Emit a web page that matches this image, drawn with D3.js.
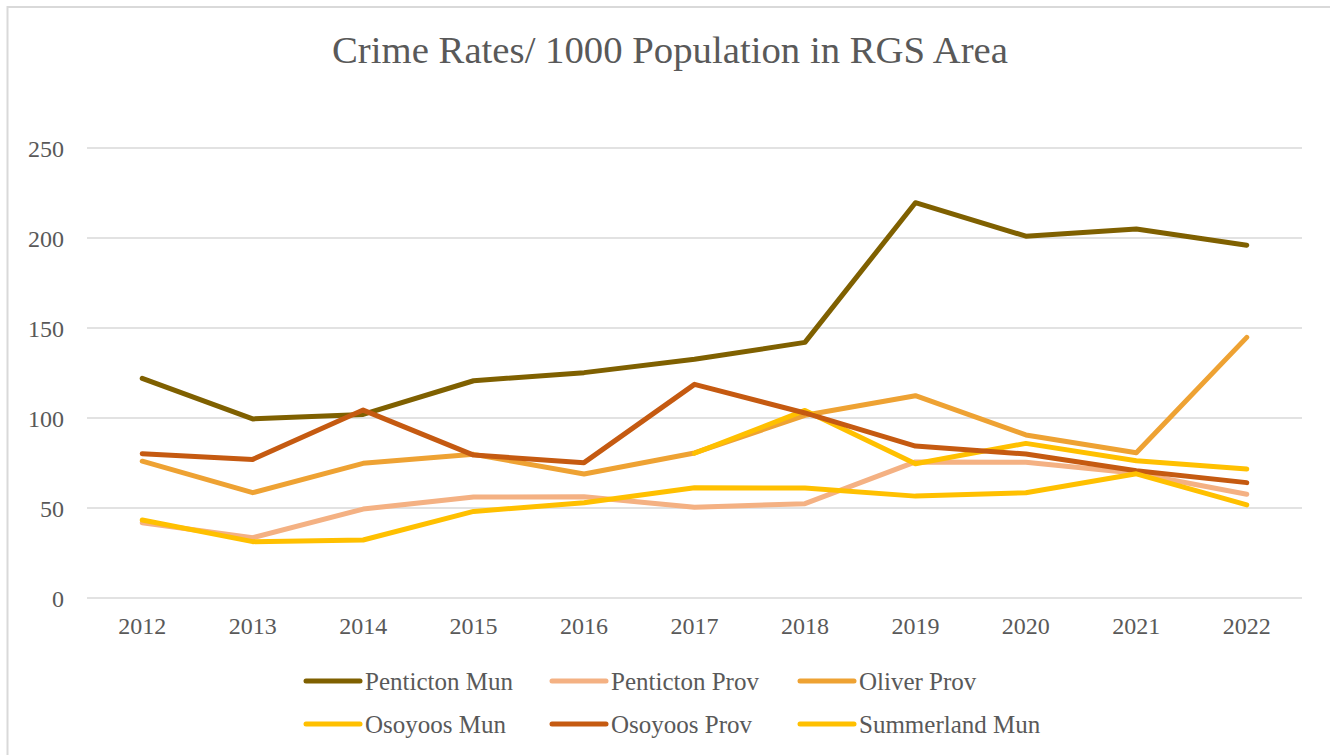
<!DOCTYPE html>
<html>
<head>
    <script src="https://d3js.org/d3.v7.min.js"></script>
    <style>
        body { margin: 0; background-color: #ffffff; }
        text { font-family: "Liberation Serif", "DejaVu Serif", serif; fill: #595959; }
    </style>
</head>
<body>
    <svg id="canvas" width="1330" height="755"></svg>
    <script>
        const svg = d3.select('#canvas');
        const WIDTH = 1330;
        const HEIGHT = 755;
        const LINE_WIDTH = 5;

        //categories and tick labels
        const years = ['2012', '2013', '2014', '2015', '2016', '2017', '2018', '2019', '2020', '2021', '2022'];
        const yTicks = [0, 50, 100, 150, 200, 250];

        //series values (null = no data)
        const pentictonMun = [122, 99.5, 102, 120.7, 125.2, 132.6, 142, 219.6, 201, 205, 196];
        const pentictonProv = [41.8, 33.5, 49.4, 56.1, 56.3, 50.4, 52.4, 75.6, 75.4, 69.3, 57.6];
        const oliverProv = [76, 58.5, 74.8, 79.8, 68.9, 80.6, 101.5, 112.4, 90.6, 80.7, 144.8];
        const osoyoosMun = [null, null, null, null, null, 80.4, 104.2, 74.6, 85.9, 76.3, 71.7];
        const osoyoosProv = [80.2, 77, 104.4, 79.4, 75.2, 118.7, 102.8, 84.4, 80, 70.7, 64.1];
        const summerlandMun = [43.3, 31.3, 32.2, 48.1, 52.9, 61.3, 61.1, 56.6, 58.5, 69, 51.7];

        const seriesNames = ['Penticton Mun', 'Penticton Prov', 'Oliver Prov', 'Osoyoos Mun', 'Osoyoos Prov', 'Summerland Mun'];
        const seriesColors = ['#7f6000', '#f4b183', '#eea233', '#ffc000', '#c55a11', '#ffc000'];
        const seriesValues = [pentictonMun, pentictonProv, oliverProv, osoyoosMun, osoyoosProv, summerlandMun];

        const series = seriesNames.map((name, i) => ({
            name: name,
            color: seriesColors[i],
            values: seriesValues[i]
        }));

        //plot area
        const plot = { left: 87, right: 1302, top: 148, bottom: 598 };

        const x = d3.scaleBand()
            .domain(years)
            .range([plot.left, plot.right]);

        const y = d3.scaleLinear()
            .domain([0, 250])
            .range([plot.bottom, plot.top]);

        //chart border (runs off the right and bottom of the picture)
        svg.append('rect')
            .attr('x', 7.5)
            .attr('y', 7)
            .attr('width', WIDTH + 20)
            .attr('height', HEIGHT + 20)
            .attr('fill', 'none')
            .attr('stroke', '#d9d9d9')
            .attr('stroke-width', 2);

        //title
        svg.append('text')
            .attr('x', 670)
            .attr('y', 63)
            .attr('text-anchor', 'middle')
            .attr('font-size', 38)
            .attr('textLength', 676)
            .attr('lengthAdjust', 'spacingAndGlyphs')
            .text('Crime Rates/ 1000 Population in RGS Area');

        //gridlines
        svg.append('g')
            .selectAll('line')
            .data(yTicks)
            .join('line')
            .attr('x1', plot.left)
            .attr('x2', plot.right)
            .attr('y1', d => y(d))
            .attr('y2', d => y(d))
            .attr('stroke', '#d9d9d9')
            .attr('stroke-width', 1.5);

        //y axis
        const yAxis = svg.append('g')
            .attr('transform', `translate(${plot.left - 23},0)`)
            .call(d3.axisLeft(y).tickValues(yTicks).tickSize(0).tickPadding(0));
        yAxis.select('.domain').remove();
        yAxis.selectAll('text')
            .attr('font-size', 24)
            .attr('dy', '0.35em')
            .style('font-family', '"Liberation Serif", serif')
            .attr('fill', '#595959');

        //x axis
        const xAxis = svg.append('g')
            .attr('transform', `translate(0,${plot.bottom + 19})`)
            .call(d3.axisBottom(x).tickSize(0).tickPadding(0));
        xAxis.select('.domain').remove();
        xAxis.selectAll('text')
            .attr('font-size', 24)
            .attr('dy', '0.71em')
            .style('font-family', '"Liberation Serif", serif')
            .attr('fill', '#595959');

        //lines
        const line = d3.line()
            .defined(d => d != null)
            .x((d, i) => x(years[i]) + x.bandwidth() / 2)
            .y(d => y(d));

        svg.append('g')
            .selectAll('path')
            .data(series)
            .join('path')
            .attr('d', d => line(d.values))
            .attr('fill', 'none')
            .attr('stroke', d => d.color)
            .attr('stroke-width', LINE_WIDTH)
            .attr('stroke-linejoin', 'round')
            .attr('stroke-linecap', 'round');

        //legend, two rows of three
        const legendCols = [306, 552, 800];
        const legendRows = [681, 724];

        const legend = svg.append('g')
            .selectAll('g')
            .data(series)
            .join('g')
            .attr('transform', (d, i) => `translate(${legendCols[i % 3]},${legendRows[Math.floor(i / 3)]})`);

        legend.append('line')
            .attr('x1', 0)
            .attr('x2', 54)
            .attr('stroke', d => d.color)
            .attr('stroke-width', LINE_WIDTH)
            .attr('stroke-linecap', 'round');

        legend.append('text')
            .attr('x', 59)
            .attr('dy', '0.35em')
            .attr('font-size', 25)
            .text(d => d.name);
    </script>
</body>
</html>
